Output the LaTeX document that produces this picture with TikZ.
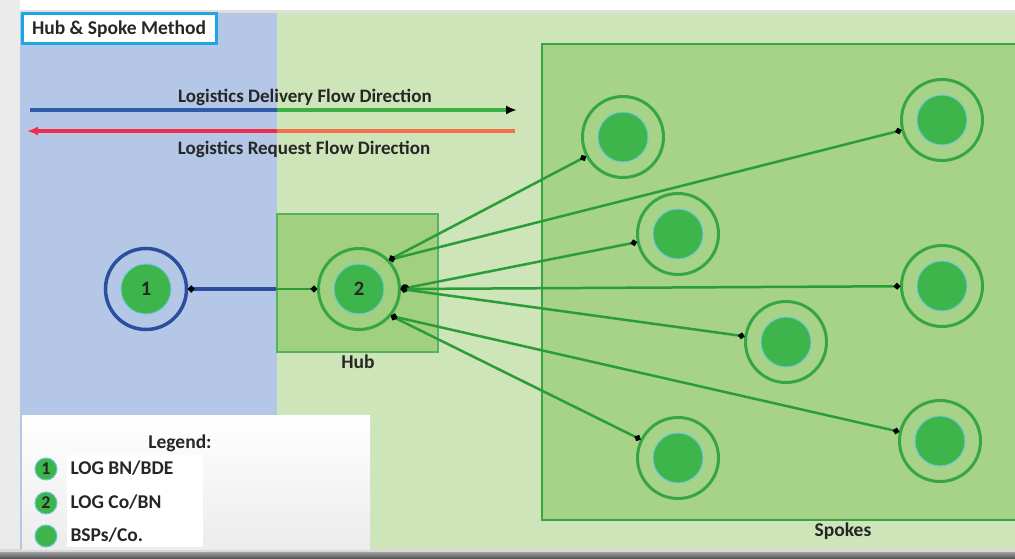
\documentclass[tikz,border=0pt]{standalone}
\usepackage{fontspec}
\setmainfont{Carlito}
\usetikzlibrary{arrows.meta}
\definecolor{pagegray}{HTML}{EBEBEB}
\definecolor{bluebg}{HTML}{B4C7E7}
\definecolor{greenbg}{HTML}{CDE5B8}
\definecolor{spokebg}{HTML}{A6D388}
\definecolor{hubbg}{HTML}{A0D080}
\definecolor{ringgreen}{HTML}{36A642}
\definecolor{core}{HTML}{3DB54A}
\definecolor{coreedge}{HTML}{6CC8D8}
\definecolor{nodeblue}{HTML}{2B4F9E}
\definecolor{linegreen}{HTML}{2A9C38}
\definecolor{titleborder}{HTML}{1DA6E2}
\definecolor{delblue}{HTML}{2F5BA8}
\definecolor{delgreen}{HTML}{3CB043}
\definecolor{reqred}{HTML}{EE2D4F}
\definecolor{reqorange}{HTML}{F2704C}
\definecolor{txt}{HTML}{262626}
\begin{document}
\begin{tikzpicture}[x=1pt,y=-1pt,
  every node/.style={font=\fontsize{19.5}{22}\selectfont\bfseries, text=txt},
  corefill/.style={path picture={\filldraw[fill=core,draw=coreedge,line width=1pt] (path picture bounding box.center) circle (25pt);}},
  spoke/.style={circle, draw=ringgreen, line width=3pt, minimum size=81pt, inner sep=0pt, corefill},
  hubnode/.style={spoke, font=\fontsize{20.5}{22}\selectfont\bfseries},
  bdenode/.style={spoke, draw=nodeblue, line width=3.5pt, font=\fontsize{20.5}{22}\selectfont\bfseries},
  conn/.style={draw=linegreen, line width=2.5pt, {Circle[length=6pt,color=black]}-{Circle[length=6pt,color=black]}},
  legdot/.style={circle, fill=core, draw=coreedge, line width=1pt, minimum size=22pt, inner sep=0pt, font=\fontsize{18}{20}\selectfont\bfseries},
  flow/.style={line width=3.5pt}
]
\useasboundingbox (0,0) rectangle (1015,559);
% backgrounds
\fill[pagegray] (0,0) rectangle (1015,559);
\fill[white] (20,0) rectangle (1015,10);
\fill[gray!25] (20,10) rectangle (1015,13);
\fill[bluebg] (20,13) rectangle (277,551);
\fill[greenbg] (277,13) rectangle (1015,551);
\fill[gray!30] (0,549) rectangle (1015,552);
\shade[top color=gray!75, bottom color=gray!60!black] (0,552) rectangle (1015,559);
% spokes area
\fill[spokebg] (542,44) rectangle (1015,520);
\draw[ringgreen, line width=2.5pt] (1016,44) -- (542,44) -- (542,520) -- (1016,520);
\node (spokeslbl) at (843,531) {Spokes};
% hub area
\node[draw=ringgreen!85, line width=2pt, fill=hubbg, minimum width=161pt, minimum height=138pt, inner sep=0pt] (hub) at (357,283) {};
\node (hublbl) at (358,362) {Hub};
% title
\node[draw=titleborder, fill=white, line width=3pt, minimum width=194pt, minimum height=30pt, inner sep=0pt] (title) at (119,29) {Hub \& Spoke Method};
% flow arrows
\coordinate (delL) at (30,110);
\coordinate (delM) at (277,110);
\coordinate (delR) at (517,110);
\coordinate (reqL) at (27,131);
\coordinate (reqM) at (277,131);
\coordinate (reqR) at (515,131);
\draw[flow, delblue] (delL) -- (delM);
\draw[flow, delgreen, -{Latex[length=11pt,width=9pt,color=black]}] (delM) -- (delR);
\draw[flow, reqorange] (reqR) -- (reqM);
\draw[flow, reqred, -{Latex[length=11pt,width=9pt,color=reqred]}] (reqM) -- (reqL);
\node[font=\fontsize{19}{22}\selectfont\bfseries] (dellbl) at (305,97) {Logistics Delivery Flow Direction};
\node[font=\fontsize{19}{22}\selectfont\bfseries] (reqlbl) at (304,149) {Logistics Request Flow Direction};
% nodes
\node[bdenode] (n1) at (146,289) {1};
\node[hubnode] (n2) at (359,289) {2};
\node[spoke] (s1) at (623,137) {};
\node[spoke] (s2) at (942,120) {};
\node[spoke] (s3) at (678,234) {};
\node[spoke] (s4) at (942,286) {};
\node[spoke] (s5) at (786,342) {};
\node[spoke] (s6) at (940,441) {};
\node[spoke] (s7) at (678,458) {};
% connectors
\coordinate (hubL) at (hub.west |- n1);
\draw[conn] (n1) -- (n2);
\draw[draw=nodeblue, line width=3.5pt, {Circle[length=6pt,color=black]}-] (n1) -- (hubL);
\draw[conn] (n2.44) -- (s1);
\draw[conn] (n2.44) -- (s2);
\draw[conn, {Circle[length=8pt,color=black]}-{Circle[length=6pt,color=black]}] (n2.0) -- (s3);
\draw[conn] (n2.0) -- (s4);
\draw[conn] (n2.0) -- (s5);
\draw[conn] (n2.-40) -- (s6);
\draw[conn] (n2.-40) -- (s7);
% legend
\shade[top color=white, bottom color=gray!15] (22,415) rectangle (370,549);
\fill[white] (67,455) rectangle (203,547);
\node (leglbl) at (180,443) {Legend:};
\node[legdot] (l1) at (46,469) {1};
\node[legdot] (l2) at (46,503) {2};
\node[legdot] (l3) at (46,536) {};
\node[anchor=west] (l1t) at (67,468) {LOG BN/BDE};
\node[anchor=west] (l2t) at (67,502) {LOG Co/BN};
\node[anchor=west] (l3t) at (67,535) {BSPs/Co.};
\end{tikzpicture}
\end{document}
